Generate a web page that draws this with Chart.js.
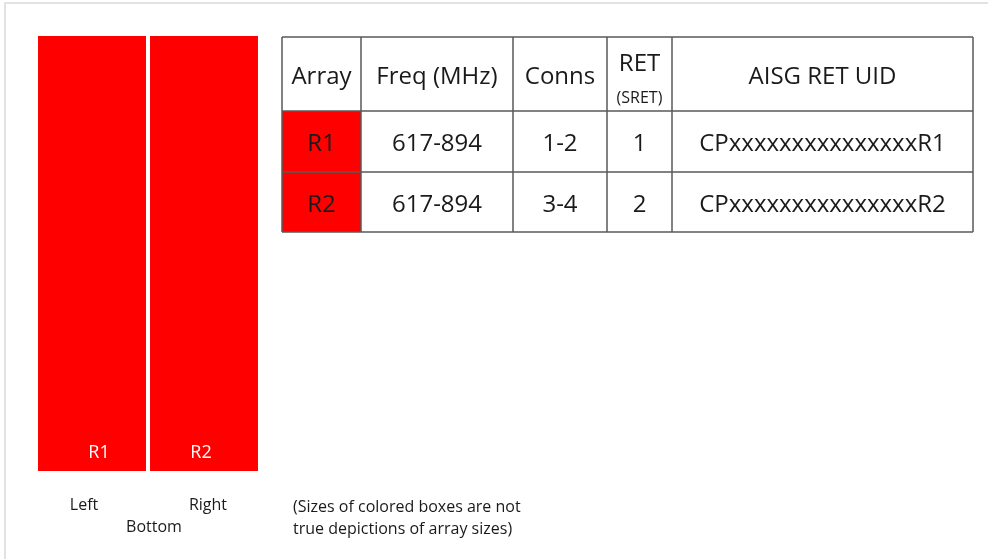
<!DOCTYPE html>
<html>
<head>
<meta charset="utf-8">
<script src="https://cdn.jsdelivr.net/npm/chart.js@4.4.0/dist/chart.umd.min.js"></script>
<style>
  html, body { margin: 0; padding: 0; background: #fff; }
  canvas { display: block; }
</style>
</head>
<body>
<canvas id="chart" width="988" height="559"></canvas>
<script>
// Données de l'antenne
const arrays = ['R1', 'R2'];
const arrayHeights = [1, 1];
const freqs = ['617-894', '617-894'];
const conns = ['1-2', '3-4'];
const retIds = ['1', '2'];
const uids = ['CPxxxxxxxxxxxxxxxR1', 'CPxxxxxxxxxxxxxxxR2'];
const headers = ['Array', 'Freq (MHz)', 'Conns', 'RET', 'AISG RET UID'];
const sides = ['Left', 'Right', 'Bottom'];
const note = ['(Sizes of colored boxes are not', 'true depictions of array sizes)'];

const colors = {
    red: '#ff0000',
    text: '#1a1a1a',
    line: '#5a5a5a',
    frame: '#e2e2e2'
};
const FONT = "'Open Sans', sans-serif";

// Tableau à droite + textes annexes
const tablePlugin = {
    id: 'tablePlugin',
    afterDraw(chart) {
        const ctx = chart.ctx;
        const area = chart.chartArea;
        const meta = chart.getDatasetMeta(0);
        ctx.save();

        // cadre léger de l'image
        ctx.strokeStyle = colors.frame;
        ctx.lineWidth = 2;
        ctx.beginPath();
        ctx.moveTo(5, chart.height);
        ctx.lineTo(5, 3);
        ctx.lineTo(chart.width, 3);
        ctx.stroke();

        // étiquettes dans les barres
        const labelShift = [7, -3];
        ctx.textAlign = 'center';
        ctx.textBaseline = 'middle';
        ctx.fillStyle = '#ffffff';
        ctx.font = '18px ' + FONT;
        meta.data.forEach((bar, i) => {
            ctx.fillText(arrays[i], bar.x + labelShift[i], bar.base - 18);
        });

        // orientation
        ctx.fillStyle = colors.text;
        ctx.font = '16px ' + FONT;
        ctx.fillText(sides[0], area.left + 48, area.bottom + 34);
        ctx.fillText(sides[1], area.right - 52, area.bottom + 34);
        ctx.fillText(sides[2], (area.left + area.right) / 2 + 6, area.bottom + 56);

        // note
        ctx.textAlign = 'left';
        ctx.fillText(note[0], 293, 507);
        ctx.fillText(note[1], 293, 529);

        // tableau
        const x0 = 282, y0 = 37;
        const colW = [79, 152, 94, 65, 301];
        const rowH = [74, 61, 60];
        const colX = [x0];
        colW.forEach(w => colX.push(colX[colX.length - 1] + w));
        const rowY = [y0];
        rowH.forEach(h => rowY.push(rowY[rowY.length - 1] + h));

        // cellules rouges
        ctx.fillStyle = colors.red;
        arrays.forEach((a, i) => {
            ctx.fillRect(colX[0], rowY[i + 1], colW[0], rowH[i + 1]);
        });

        // texte
        ctx.textAlign = 'center';
        ctx.fillStyle = colors.text;
        ctx.font = '24px ' + FONT;
        headers.forEach((h, c) => {
            const cx = (colX[c] + colX[c + 1]) / 2;
            if (h === 'RET') {
                ctx.fillText(h, cx, rowY[0] + 27);
                ctx.font = '16px ' + FONT;
                ctx.fillText('(SRET)', cx, rowY[0] + 61);
                ctx.font = '24px ' + FONT;
            } else {
                ctx.fillText(h, cx, (rowY[0] + rowY[1]) / 2 + 3);
            }
        });
        arrays.forEach((a, i) => {
            const cells = [a, freqs[i], conns[i], retIds[i], uids[i]];
            const cy = (rowY[i + 1] + rowY[i + 2]) / 2 + 3;
            cells.forEach((t, c) => {
                ctx.fillText(t, (colX[c] + colX[c + 1]) / 2, cy);
            });
        });

        // lignes
        ctx.strokeStyle = colors.line;
        ctx.lineWidth = 1.5;
        ctx.beginPath();
        rowY.forEach(y => { ctx.moveTo(colX[0], y); ctx.lineTo(colX[colX.length - 1], y); });
        colX.forEach(x => { ctx.moveTo(x, rowY[0]); ctx.lineTo(x, rowY[rowY.length - 1]); });
        ctx.stroke();

        ctx.restore();
    }
};

new Chart(document.getElementById('chart').getContext('2d'), {
    type: 'bar',
    data: {
        labels: arrays,
        datasets: [{
            data: arrayHeights,
            backgroundColor: colors.red,
            borderWidth: 0,
            categoryPercentage: 1,
            barPercentage: 0.964
        }]
    },
    options: {
        responsive: false,
        animation: false,
        layout: {
            padding: { left: 36, top: 36, right: 728, bottom: 88 }
        },
        plugins: {
            legend: { display: false },
            tooltip: { enabled: false }
        },
        scales: {
            x: { display: false, offset: true, grid: { display: false } },
            y: { display: false, min: 0, max: 1, grid: { display: false } }
        }
    },
    plugins: [tablePlugin]
});
</script>
</body>
</html>
